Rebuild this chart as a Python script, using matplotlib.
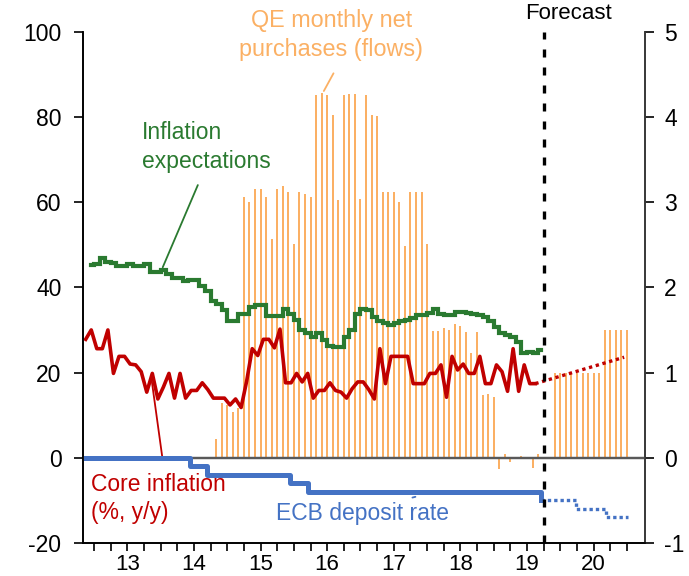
import numpy as np
import matplotlib.pyplot as plt

plt.rcParams['font.family'] = ['Liberation Sans', 'DejaVu Sans']
plt.rcParams['axes.unicode_minus'] = False

# ECB net asset purchases, EUR bn per month, Oct 2014 - Aug 2019
qe_start = (2014, 10)
qe_flows = [4.5, 12.9, 12.5,
            10.7, 11.6, 61.1, 60.1, 63.1, 63.1, 61.1, 51.4, 63.1, 63.7, 62.4, 50.1,
            62.4, 62.0, 61.1, 85.1, 85.7, 85.1, 80.4, 60.5, 85.1, 85.3, 85.3, 60.8,
            85.1, 80.4, 80.2, 62.4, 62.4, 62.4, 60.1, 49.8, 62.4, 62.4, 62.4, 50.1,
            29.8, 29.8, 30.4, 30.1, 31.5, 30.9, 29.6, 24.7, 29.6, 14.7, 15.0, 14.3,
            -2.7, 0.8, -0.9, -0.3, 0.4, 0.2, -2.3, 1.0]
# restarted purchases, Nov 2019 - Dec 2020
qe_fc_start = (2019, 11)
qe_fc = [20, 20, 20, 20, 20, 20, 20, 20, 20, 30, 30, 30, 30, 30]

# core HICP, % y/y, Nov 2012 - Aug 2019
core_start = (2012, 11)
core = [1.39, 1.50, 1.28, 1.28, 1.50, 0.99, 1.19, 1.19, 1.10, 1.09, 1.01, 0.77,
        0.99, 0.69, 0.83, 0.99, 0.70, 0.99, 0.70, 0.79, 0.79, 0.88, 0.80, 0.70,
        0.70, 0.70, 0.62, 0.69, 0.59, 0.90, 1.28, 1.20, 1.39, 1.39, 1.29, 1.51,
        0.88, 0.88, 0.99, 0.89, 0.99, 0.70, 0.79, 0.79, 0.88, 0.79, 0.77, 0.70,
        0.81, 0.89, 0.89, 0.80, 0.69, 1.28, 0.87, 1.19, 1.19, 1.19, 1.19, 0.87,
        0.87, 0.87, 0.99, 0.99, 1.09, 0.71, 1.19, 1.03, 1.10, 0.99, 0.99, 1.19,
        0.87, 0.87, 1.09, 1.01, 0.78, 1.28, 0.78, 1.09, 0.87, 0.87]
core_fc_months = [(2019, 8), (2020, 12)]
core_fc = [0.87, 1.18]

# inflation expectations, %, Dec 2012 - Sep 2019
expect_start = (2012, 12)
expect = [2.26, 2.27, 2.34, 2.30, 2.28, 2.25, 2.25, 2.27, 2.25, 2.25, 2.27, 2.18,
          2.18, 2.20, 2.16, 2.11, 2.11, 2.07, 2.09, 2.09, 2.01, 1.96, 1.84, 1.81,
          1.73, 1.60, 1.60, 1.69, 1.69, 1.77, 1.79, 1.79, 1.66, 1.66, 1.66, 1.74,
          1.69, 1.62, 1.50, 1.46, 1.42, 1.46, 1.38, 1.31, 1.30, 1.30, 1.42, 1.50,
          1.69, 1.75, 1.73, 1.65, 1.60, 1.58, 1.56, 1.58, 1.60, 1.62, 1.64, 1.67,
          1.68, 1.70, 1.74, 1.69, 1.67, 1.68, 1.71, 1.71, 1.70, 1.69, 1.67, 1.65,
          1.60, 1.54, 1.46, 1.44, 1.42, 1.36, 1.23, 1.24, 1.23, 1.26]

# deposit facility rate, % (change dates as decimal years)
depo_dates = [2012.875, 2014.44, 2014.69, 2015.94, 2016.21, 2019.71]
depo_rate = [0.0, -0.1, -0.2, -0.3, -0.4, -0.5]
depo_fc_dates = [2019.71, 2020.24, 2020.69, 2021.02]
depo_fc_rate = [-0.5, -0.6, -0.7, -0.7]

forecast_start = 2019.76
years = ['13', '14', '15', '16', '17', '18', '19', '20']

ORANGE = '#FBB064'
GREEN = '#2A7A30'
RED = '#C00000'
BLUE = '#4472C4'


def month_end(start, n):
    y, m = start
    return y + (m + np.arange(n)) / 12


def month_mid(start, n):
    y, m = start
    return y + (m - 0.5 + np.arange(n)) / 12


fig = plt.figure(figsize=(6.89, 5.76), dpi=100)
ax = fig.add_axes([0.1205, 0.0573, 0.8155, 0.8877])
ax2 = ax.twinx()

ax.bar(month_end(qe_start, len(qe_flows)), qe_flows, width=0.03, color=ORANGE, zorder=2)
ax.bar(month_end(qe_fc_start, len(qe_fc)), qe_fc, width=0.03, color=ORANGE, zorder=2)
ax.axhline(0, color='#595959', lw=1.75, zorder=3)

ax2.plot(month_mid(expect_start, len(expect)), expect, color=GREEN, lw=3.0,
         drawstyle='steps-mid', solid_joinstyle='miter')
ax2.plot(month_mid(core_start, len(core)), core, color=RED, lw=2.6)
fc_x = [y + (m - 0.5) / 12 for y, m in core_fc_months]
ax2.plot(fc_x, core_fc, color=RED, lw=2.4, linestyle=(0, (1, 1.1)))
ax2.plot(depo_dates, depo_rate, color=BLUE, lw=3.6, drawstyle='steps-post')
ax2.plot(depo_fc_dates, depo_fc_rate, color=BLUE, lw=2.4, drawstyle='steps-post',
         linestyle=(0, (1, 0.9)))
ax2.axvline(forecast_start, color='black', lw=2.4, linestyle=(0, (2.4, 3.0)), zorder=5)

ax.set_xlim(2012.835, 2021.27)
ax.set_ylim(-20, 100)
ax2.set_ylim(-1, 5)

ax.set_xticks(np.arange(2013.5, 2021, 1), years)
quarters = [q for q in np.arange(2013, 2021.01, 0.25) if abs(q % 1 - 0.5) > 0.01]
ax.set_xticks(quarters, minor=True)
ax.set_yticks(np.arange(-20, 101, 20))
ax2.set_yticks(np.arange(-1, 6, 1))

for a in (ax, ax2):
    a.tick_params(axis='both', which='both', direction='out', length=6.5, width=1.2,
                  labelsize=16.5, color='black')
    a.spines['top'].set_visible(False)
    for s in ('left', 'right', 'bottom'):
        a.spines[s].set_linewidth(1.2)
ax.tick_params(axis='y', pad=9)
ax.tick_params(axis='x', which='both', length=6, pad=2, labelsize=16)
ax2.tick_params(axis='y', pad=7.5)
ax2.spines['right'].set_color('#404040')

# series labels
ax.text(2016.565, 99.2, 'QE monthly net\npurchases (flows)', color=ORANGE, fontsize=16.8,
        ha='center', va='center', linespacing=1.3, clip_on=False)
ax.annotate('', xy=(2016.43, 85.5), xytext=(2016.615, 90.8),
            arrowprops=dict(arrowstyle='-', color=ORANGE, lw=1.3))

ax.text(2013.715, 72.9, 'Inflation\nexpectations', color=GREEN, fontsize=16.5,
        ha='left', va='center', linespacing=1.3)
ax.annotate('', xy=(2014.015, 44.1), xytext=(2014.575, 64.6),
            arrowprops=dict(arrowstyle='-', color=GREEN, lw=1.3))

ax.text(2012.95, -9.5, 'Core inflation\n(%, y/y)', color=RED, fontsize=16.5,
        ha='left', va='center', linespacing=1.3)
ax.annotate('', xy=(2014.035, -1.0), xytext=(2013.855, 19.4),
            arrowprops=dict(arrowstyle='-', color=RED, lw=1.3))

ax.text(2017.03, -13.0, 'ECB deposit rate', color=BLUE, fontsize=16.5,
        ha='center', va='center')
ax.annotate('', xy=(2017.865, -9.0), xytext=(2017.74, -9.5),
            arrowprops=dict(arrowstyle='-', color=BLUE, lw=1.3))

ax.text(2020.13, 104.3, 'Forecast', color='black', fontsize=16,
        ha='center', va='center', clip_on=False)

fig.savefig('out.png', dpi=100)
